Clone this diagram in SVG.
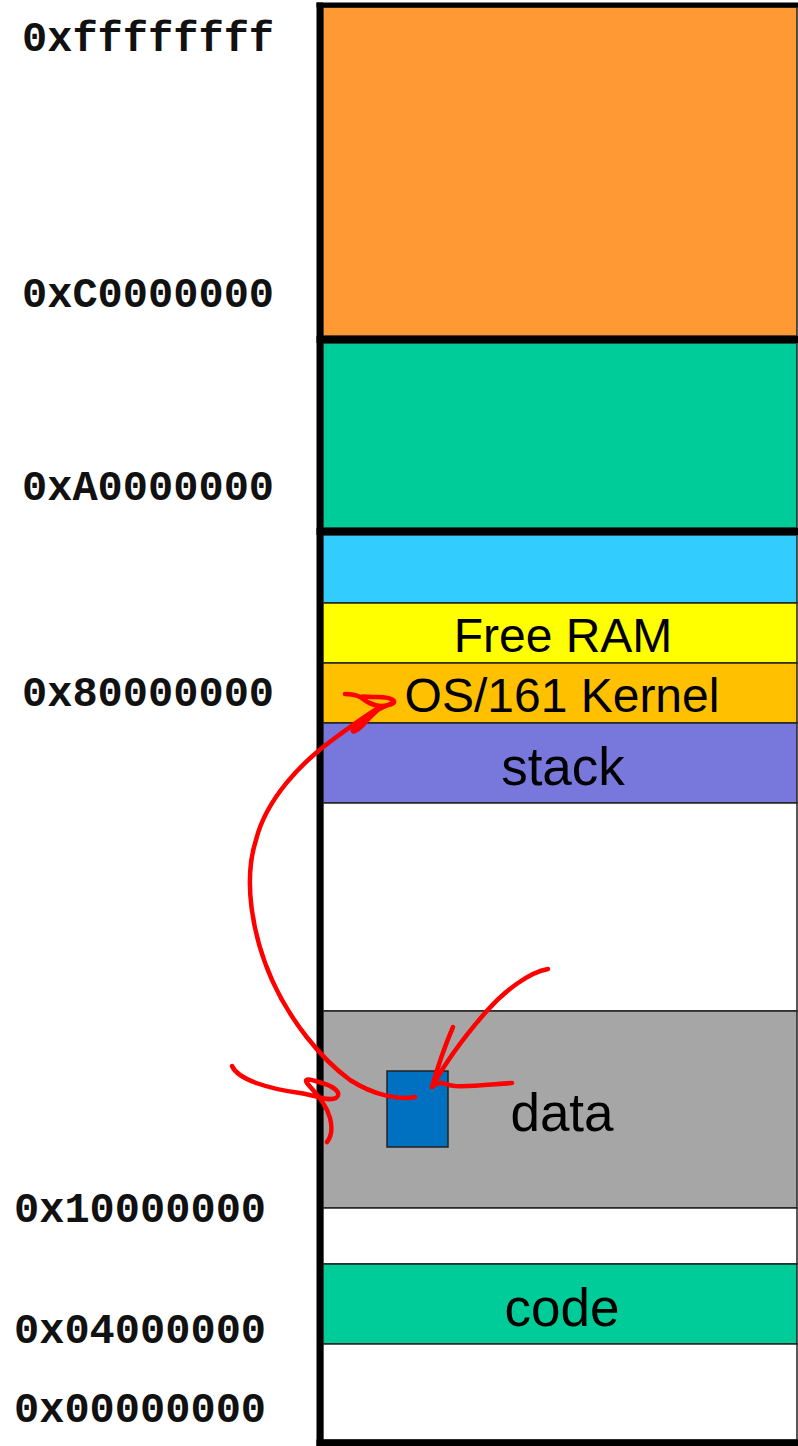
<svg xmlns="http://www.w3.org/2000/svg" width="798" height="1446" viewBox="0 0 798 1446">
  <style>
    .seg { stroke: #222; stroke-width: 1.5; }
    .bar { fill: #000; }
    .addr { font-family: "Liberation Mono", "Courier New", monospace; font-weight: bold; font-size: 42px; fill: #111; }
    .lbl { font-family: "Liberation Sans", Arial, sans-serif; fill: #000; text-anchor: middle; }
    .ink { fill: none; stroke: #FF0000; stroke-width: 4.5; stroke-linecap: round; stroke-linejoin: round; }
  </style>

  <rect x="0" y="0" width="798" height="1446" fill="#fff"/>

  <!-- address labels -->
  <g id="addresses">
    <text class="addr" x="22" y="51">0xffffffff</text>
    <text class="addr" x="22" y="307">0xC0000000</text>
    <text class="addr" x="22" y="500">0xA0000000</text>
    <text class="addr" x="22" y="706">0x80000000</text>
    <text class="addr" x="14" y="1222">0x10000000</text>
    <text class="addr" x="14" y="1343">0x04000000</text>
    <text class="addr" x="14" y="1422">0x00000000</text>
  </g>

  <!-- memory segments, top to bottom -->
  <g id="kseg2"><rect class="seg" x="323" y="7" width="474" height="329" fill="#FF9933"/></g>
  <g id="kseg1"><rect class="seg" x="323" y="343" width="474" height="185" fill="#00CC99"/></g>
  <g id="kseg0-top"><rect class="seg" x="323" y="535" width="474" height="68" fill="#33CCFF"/></g>
  <g id="free-ram">
    <rect class="seg" x="323" y="603" width="474" height="60" fill="#FFFF00"/>
    <text class="lbl" x="563" y="652" font-size="48">Free RAM</text>
  </g>
  <g id="kernel">
    <rect class="seg" x="323" y="663" width="474" height="60" fill="#FFC000"/>
    <text class="lbl" x="562" y="712" font-size="48">OS/161 Kernel</text>
  </g>
  <g id="stack">
    <rect class="seg" x="323" y="723" width="474" height="80" fill="#7878DC"/>
    <text class="lbl" x="563" y="785" font-size="53">stack</text>
  </g>
  <g id="gap-upper"><rect class="seg" x="323" y="803" width="474" height="208" fill="#fff"/></g>
  <g id="data">
    <rect class="seg" x="323" y="1011" width="474" height="197" fill="#A6A6A6"/>
    <text class="lbl" x="562" y="1131" font-size="53">data</text>
  </g>
  <g id="variable"><rect class="seg" x="387" y="1071" width="61" height="76" fill="#0070C0"/></g>
  <g id="gap-lower"><rect class="seg" x="323" y="1208" width="474" height="56" fill="#fff"/></g>
  <g id="code">
    <rect class="seg" x="323" y="1264" width="474" height="80" fill="#00CC99"/>
    <text class="lbl" x="562" y="1326" font-size="53">code</text>
  </g>
  <g id="unmapped"><rect class="seg" x="323" y="1344" width="474" height="96" fill="#fff"/></g>

  <!-- heavy frame and region dividers -->
  <g id="frame">
    <rect class="bar" x="316.5" y="2.5" width="6.5" height="1443.5"/>
    <rect class="bar" x="316.5" y="2.5" width="481.5" height="5"/>
    <rect class="bar" x="316.5" y="336" width="481.5" height="7"/>
    <rect class="bar" x="316.5" y="528" width="481.5" height="7"/>
    <rect class="bar" x="316.5" y="1439.5" width="481.5" height="6.5"/>
  </g>

  <!-- hand-drawn arrows -->
  <g id="connectors">
    <!-- variable to kernel -->
    <path class="ink" d="M415,1097 C400,1100 375,1096 350,1080 C320,1058 290,1020 272,980 C252,935 243,880 256,840 C266,800 300,763 335,738 C350,727 365,716 380,707"/>
    <path class="ink" d="M345,694 C352,694 356,695 360,697 C366,701 370,705 380,706 C388,706 395,704 394,701 C392,698 384,697 376,697 C368,697 363,696 360,697"/>
    <path class="ink" d="M394,702 C386,706 378,709 372,713 C364,719 356,726 353,730 C352,733 357,731 362,726 C368,719 374,713 380,708"/>
    <!-- pointer from the right -->
    <path class="ink" d="M548,969 C530,972 505,990 485,1013 C465,1036 445,1063 432,1087"/>
    <path class="ink" d="M453,1027 Q441,1055 432,1087"/>
    <path class="ink" d="M433,1086 C440,1080 445,1085 455,1086 C470,1087 495,1084 512,1083"/>
    <!-- pointer from the left -->
    <path class="ink" d="M232,1066 C238,1080 270,1089 300,1093 C315,1095 328,1102 336,1098 C343,1093 333,1086 322,1083 C312,1080 303,1077 307,1083 C315,1093 326,1103 330,1118 C333,1130 331,1137 327,1142"/>
  </g>
</svg>
